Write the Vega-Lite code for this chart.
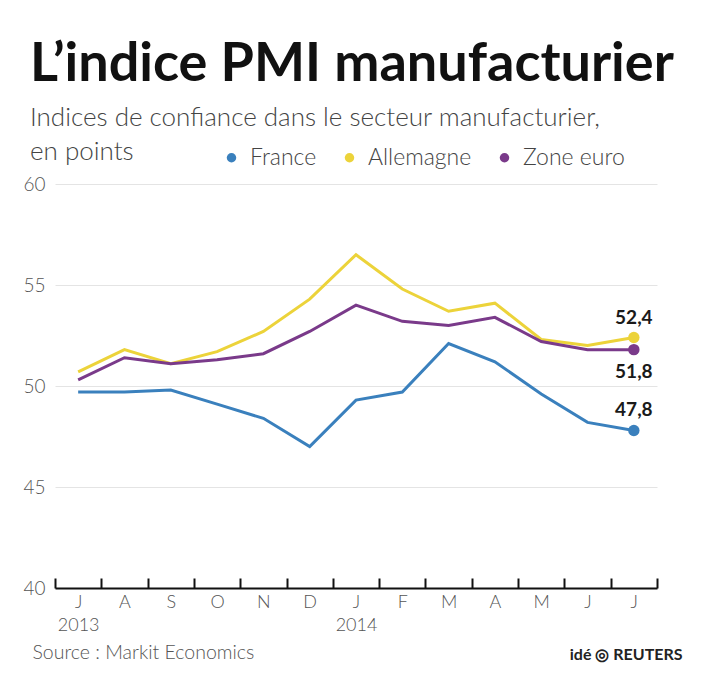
{
  "$schema": "https://vega.github.io/schema/vega-lite/v6.json",
  "width": 602,
  "height": 404,
  "autosize": {"type": "none"},
  "padding": {"left": 55, "top": 184, "right": 53, "bottom": 87},
  "background": "white",
  "title": {
    "text": "L’indice PMI manufacturier",
    "subtitle": ["Indices de confiance dans le secteur manufacturier,", "en points"],
    "anchor": "start",
    "frame": "group",
    "dx": -25,
    "dy": 33,
    "offset": 14,
    "font": "Lato",
    "fontSize": 54,
    "fontWeight": "bold",
    "color": "#111111",
    "subtitleFont": "Lato",
    "subtitleFontSize": 26,
    "subtitleFontWeight": 300,
    "subtitleColor": "#444444",
    "subtitleLineHeight": 34,
    "subtitlePadding": 13
  },
  "data": {
    "values": [
      {"mois": "2013-07", "zone": "France", "pmi": 49.7},
      {"mois": "2013-08", "zone": "France", "pmi": 49.7},
      {"mois": "2013-09", "zone": "France", "pmi": 49.8},
      {"mois": "2013-10", "zone": "France", "pmi": 49.1},
      {"mois": "2013-11", "zone": "France", "pmi": 48.4},
      {"mois": "2013-12", "zone": "France", "pmi": 47.0},
      {"mois": "2014-01", "zone": "France", "pmi": 49.3},
      {"mois": "2014-02", "zone": "France", "pmi": 49.7},
      {"mois": "2014-03", "zone": "France", "pmi": 52.1},
      {"mois": "2014-04", "zone": "France", "pmi": 51.2},
      {"mois": "2014-05", "zone": "France", "pmi": 49.6},
      {"mois": "2014-06", "zone": "France", "pmi": 48.2},
      {"mois": "2014-07", "zone": "France", "pmi": 47.8},
      {"mois": "2013-07", "zone": "Allemagne", "pmi": 50.7},
      {"mois": "2013-08", "zone": "Allemagne", "pmi": 51.8},
      {"mois": "2013-09", "zone": "Allemagne", "pmi": 51.1},
      {"mois": "2013-10", "zone": "Allemagne", "pmi": 51.7},
      {"mois": "2013-11", "zone": "Allemagne", "pmi": 52.7},
      {"mois": "2013-12", "zone": "Allemagne", "pmi": 54.3},
      {"mois": "2014-01", "zone": "Allemagne", "pmi": 56.5},
      {"mois": "2014-02", "zone": "Allemagne", "pmi": 54.8},
      {"mois": "2014-03", "zone": "Allemagne", "pmi": 53.7},
      {"mois": "2014-04", "zone": "Allemagne", "pmi": 54.1},
      {"mois": "2014-05", "zone": "Allemagne", "pmi": 52.3},
      {"mois": "2014-06", "zone": "Allemagne", "pmi": 52.0},
      {"mois": "2014-07", "zone": "Allemagne", "pmi": 52.4},
      {"mois": "2013-07", "zone": "Zone euro", "pmi": 50.3},
      {"mois": "2013-08", "zone": "Zone euro", "pmi": 51.4},
      {"mois": "2013-09", "zone": "Zone euro", "pmi": 51.1},
      {"mois": "2013-10", "zone": "Zone euro", "pmi": 51.3},
      {"mois": "2013-11", "zone": "Zone euro", "pmi": 51.6},
      {"mois": "2013-12", "zone": "Zone euro", "pmi": 52.7},
      {"mois": "2014-01", "zone": "Zone euro", "pmi": 54.0},
      {"mois": "2014-02", "zone": "Zone euro", "pmi": 53.2},
      {"mois": "2014-03", "zone": "Zone euro", "pmi": 53.0},
      {"mois": "2014-04", "zone": "Zone euro", "pmi": 53.4},
      {"mois": "2014-05", "zone": "Zone euro", "pmi": 52.2},
      {"mois": "2014-06", "zone": "Zone euro", "pmi": 51.8},
      {"mois": "2014-07", "zone": "Zone euro", "pmi": 51.8}
    ]
  },
  "encoding": {
    "x": {
      "field": "mois",
      "type": "ordinal",
      "sort": null,
      "scale": {"type": "band", "paddingInner": 0, "paddingOuter": 0},
      "axis": {
        "title": "Source : Markit Economics",
        "titleAnchor": "start",
        "titleAlign": "left",
        "titleBaseline": "alphabetic",
        "titleX": -23,
        "titleY": 70,
        "titleFont": "Lato",
        "titleFontSize": 19.5,
        "titleFontWeight": 300,
        "titleColor": "#555555",
        "labelAngle": 0,
        "labelExpr": "[substring('JFMAMJJASOND', parseInt(substring(datum.value, 5, 7)) - 1, parseInt(substring(datum.value, 5, 7))), (datum.value == '2013-07' || datum.value == '2014-01') ? substring(datum.value, 0, 4) : '']",
        "labelFont": "Lato",
        "labelFontSize": 18,
        "labelFontWeight": 300,
        "labelColor": "#555555",
        "labelLineHeight": 23,
        "labelPadding": 15,
        "tickBand": "extent",
        "tickSize": -10,
        "tickWidth": 2,
        "tickColor": "#111111",
        "domainColor": "#111111",
        "domainWidth": 2,
        "grid": false
      }
    },
    "y": {
      "field": "pmi",
      "type": "quantitative",
      "scale": {"domain": [40, 60], "nice": false, "zero": false},
      "axis": {
        "values": [40, 45, 50, 55, 60],
        "title": "idé ◎ REUTERS",
        "titleAngle": 0,
        "titleAlign": "right",
        "titleBaseline": "alphabetic",
        "titleX": 627,
        "titleY": 475,
        "titleFont": "Lato",
        "titleFontSize": 16,
        "titleFontWeight": "bold",
        "titleColor": "#222222",
        "domain": false,
        "ticks": false,
        "labelFont": "Lato",
        "labelFontSize": 19,
        "labelFontWeight": 300,
        "labelColor": "#555555",
        "labelPadding": 10,
        "gridColor": "#e4e4e4",
        "gridWidth": 1
      }
    },
    "color": {
      "field": "zone",
      "type": "nominal",
      "scale": {
        "domain": ["France", "Allemagne", "Zone euro"],
        "range": ["#3a80bd", "#ecd33a", "#7a3a8a"]
      },
      "legend": {
        "title": null,
        "orient": "none",
        "direction": "horizontal",
        "legendX": 165,
        "legendY": -38,
        "padding": 0,
        "symbolType": "circle",
        "symbolSize": 90,
        "symbolStrokeWidth": 0,
        "labelFont": "Lato",
        "labelFontSize": 23,
        "labelFontWeight": 300,
        "labelColor": "#444444",
        "labelOffset": 7,
        "columnPadding": 21
      }
    }
  },
  "layer": [
    {"mark": {"type": "line", "strokeWidth": 3}},
    {
      "transform": [{"filter": "datum.mois == '2014-07'"}],
      "mark": {"type": "point", "filled": true, "size": 130, "opacity": 1}
    },
    {
      "transform": [{"filter": "datum.mois == '2014-07' && datum.zone != 'Zone euro'"}],
      "mark": {"type": "text", "dy": -20, "font": "Lato", "fontSize": 19, "fontWeight": "bold"},
      "encoding": {
        "text": {"field": "pmi", "type": "quantitative", "format": ".1f"},
        "color": {"value": "#1a1a1a"}
      }
    },
    {
      "transform": [{"filter": "datum.mois == '2014-07' && datum.zone == 'Zone euro'"}],
      "mark": {"type": "text", "dy": 22, "font": "Lato", "fontSize": 19, "fontWeight": "bold"},
      "encoding": {
        "text": {"field": "pmi", "type": "quantitative", "format": ".1f"},
        "color": {"value": "#1a1a1a"}
      }
    }
  ],
  "config": {
    "locale": {
      "number": {"decimal": ",", "thousands": " ", "grouping": [3], "currency": ["", " €"]}
    },
    "view": {"stroke": null}
  }
}
